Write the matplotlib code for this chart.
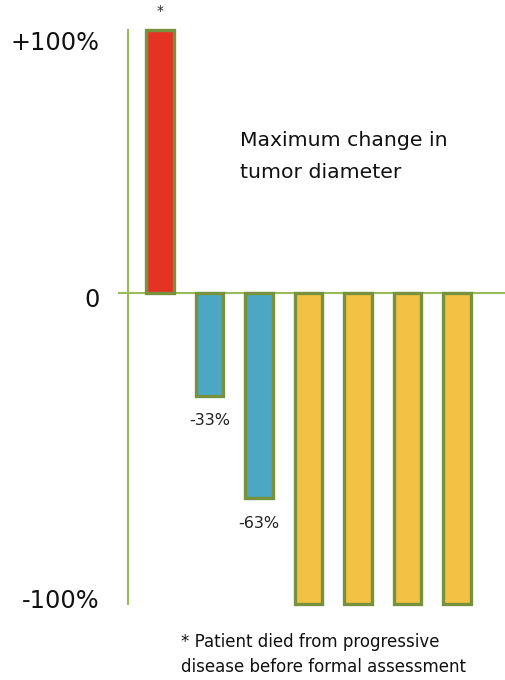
import matplotlib
matplotlib.use("Agg")
import matplotlib.pyplot as plt
import numpy as np

# Data
patients = ["P1", "P2", "P3", "P4", "P5", "P6", "P7"]
max_change = [100, -33, -66, -100, -100, -100, -100]
bar_colors = ["#E53323", "#4BA7C3", "#4BA7C3", "#F3C144", "#F3C144", "#F3C144", "#F3C144"]
value_labels = {1: "-33%", 2: "-63%"}
ytick_labels = ["+100%", "0", "-100%"]

plt.rcParams['font.family'] = ['DejaVu Sans']

W, H = 506, 680
fig = plt.figure(figsize=(W / 100, H / 100), dpi=100)
ax = fig.add_axes([118 / W, (H - 604) / H, (505 - 118) / W, (604 - 30) / H])

POS = 263 / 311.0
def fwd(y):
    y = np.asarray(y, dtype=float)
    return np.where(y > 0, y * POS, y)
def inv(y):
    y = np.asarray(y, dtype=float)
    return np.where(y > 0, y / POS, y)
ax.set_yscale('function', functions=(fwd, inv))

x = np.arange(len(patients))
ax.bar(x, max_change, width=0.55, color=bar_colors, edgecolor="#76923C",
       linewidth=2.4, zorder=3, clip_on=False)

axis_green = "#9BBB59"
ax.axhline(0, color=axis_green, linewidth=1.5, zorder=2)
ax.plot([-0.646, -0.646], [-100, 100], color=axis_green, linewidth=1.5, zorder=2, clip_on=False)

ax.set_xlim(-0.85, 6.97)
ax.set_ylim(-100, 100)
ax.set_axis_off()

# value labels
for i, lab in value_labels.items():
    ax.annotate(lab, (x[i], max_change[i]), xytext=(0, -18), textcoords="offset points",
                ha="center", va="center", fontsize=11.5, color="#222222")
ax.annotate("*", (x[0], max_change[0]), xytext=(0, 14), textcoords="offset points",
            ha="center", va="center", fontsize=10, color="#222222")

# y labels
def fy(py):
    return 1 - py / H
fig.text(100 / W, fy(43), ytick_labels[0], ha="right", va="center", fontsize=17.3, color="#111111")
fig.text(100 / W, fy(300), ytick_labels[1], ha="right", va="center", fontsize=17.3, color="#111111")
fig.text(100 / W, fy(601), ytick_labels[2], ha="right", va="center", fontsize=17.3, color="#111111")

fig.text(240 / W, fy(141), "Maximum change in", ha="left", va="center", fontsize=14.7, color="#111111")
fig.text(240 / W, fy(173), "tumor diameter", ha="left", va="center", fontsize=14.7, color="#111111")

fig.text(181 / W, fy(642), "* Patient died from progressive", ha="left", va="center", fontsize=12, color="#111111")
fig.text(181 / W, fy(667), "disease before formal assessment", ha="left", va="center", fontsize=12, color="#111111")

fig.savefig("out.png", dpi=100)
